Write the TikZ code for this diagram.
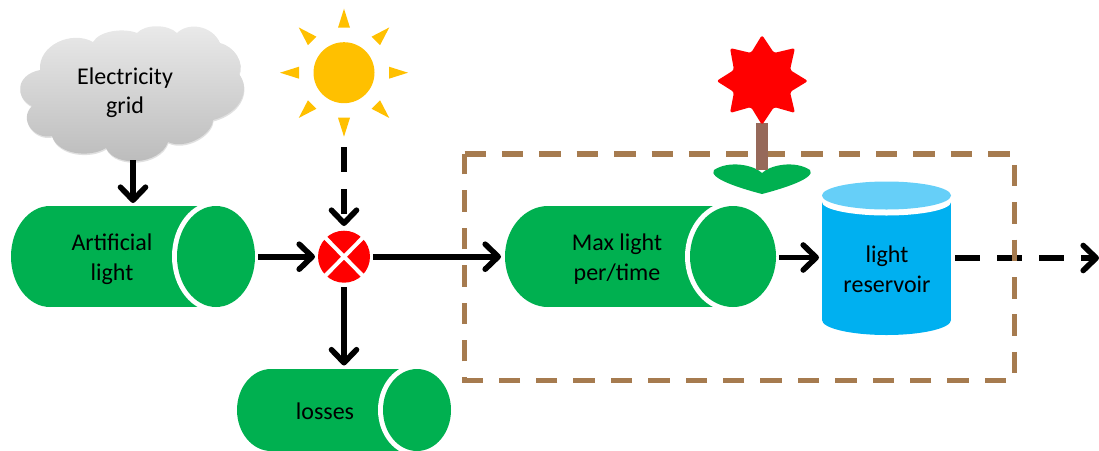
\documentclass[tikz,border=0pt]{standalone}
\usepackage{fontspec}
\setmainfont{Carlito}
\usetikzlibrary{arrows.meta,shadows}
\definecolor{cgreen}{HTML}{00B050}
\definecolor{csun}{HTML}{FFC000}
\definecolor{cbrown}{HTML}{A67B4F}
\definecolor{cstem}{HTML}{96695A}
\definecolor{cblue}{HTML}{00B0F0}
\definecolor{cltblue}{HTML}{66CFF8}
\tikzset{
  flow/.style={line width=5.6pt,draw=black,-{Straight Barb[length=13pt,width=25pt,line width=5.6pt,round]}},
  flowdash/.style={flow,dash pattern=on 24.5pt off 17.5pt},
  boxlabel/.style={font=\fontsize{24}{29.5}\selectfont,align=center,text=black,inner sep=0pt},
  ray/.style={fill=csun,draw=none}
}
\newcommand{\tube}[5]{% x0 x1 ytop ybot rx
  \fill[cgreen] (#1+#5,{(#3+#4)/2}) ellipse[x radius=#5,y radius=(#4-#3)/2];
  \fill[cgreen] (#1+#5,#3) rectangle (#2-#5,#4);
  \fill[white] (#2-#5,{(#3+#4)/2}) ellipse[x radius=#5+5,y radius=(#4-#3)/2+5];
  \fill[cgreen] (#2-#5,{(#3+#4)/2}) ellipse[x radius=#5,y radius=(#4-#3)/2];
}
\begin{document}
\begin{tikzpicture}[x=1pt,y=-1pt]
\useasboundingbox (0,0) rectangle (1099,450);
% cloud
\path[top color=black!8,bottom color=black!27,draw=none,drop shadow={shadow xshift=0.5pt,shadow yshift=-1.5pt,fill=black!30,opacity=.4}]
 (40,70) .. controls (38,45) and (72,30) .. (93,42)
 .. controls (100,30) and (125,28) .. (137,33)
 .. controls (145,24) and (168,24) .. (177,33)
 .. controls (188,22) and (212,25) .. (220,43)
 .. controls (235,47) and (244,62) .. (239,74)
 .. controls (250,88) and (243,112) .. (213,120)
 .. controls (212,135) and (185,150) .. (168,142)
 .. controls (160,165) and (115,168) .. (106,148)
 .. controls (90,158) and (58,155) .. (52,136)
 .. controls (35,140) and (18,120) .. (32,106)
 .. controls (15,98) and (15,75) .. (40,70) -- cycle;
\node[boxlabel] (grid) at (125,92.5) {Electricity\\grid};
% sun
\fill[csun] (344,72.7) circle[radius=30.5];
\foreach \a in {0,45,...,315}{
  \begin{scope}[shift={(344,72.7)},rotate=\a]
    \fill[ray] (-6,-45) -- (6,-45) -- (0,-64) -- cycle;
  \end{scope}}
\coordinate (sunb) at (344,147);
\coordinate (mixn) at (344,226);
% tubes
\tube{11}{255}{206}{307}{39}
\node[boxlabel] (art) at (112,259) {Artificial\\light};
\tube{505}{776}{206}{307}{43}
\node[boxlabel] (maxl) at (617,259) {Max light\\per/time};
\tube{237}{451}{369}{451}{34}
\node[boxlabel] (loss) at (325,411) {losses};
% mixer
\fill[red] (344,256.7) circle[radius=26];
\draw[white,line width=4pt] (325,237.5) -- (363,276) (363,237.5) -- (325,276);
% cylinder
\fill[cblue] (822,196) rectangle (951,320);
\fill[cblue] (886.5,320) ellipse[x radius=64.5,y radius=15];
\fill[white] (886.5,202) ellipse[x radius=64.5,y radius=13.5];
\fill[white] (822,196) rectangle (951,202);
\fill[cltblue] (886.5,195.5) ellipse[x radius=64.5,y radius=14];
\node[boxlabel] (res) at (887,269) {light\\reservoir};
% connectors
\coordinate (c1) at (133,160);
\coordinate (c2) at (133,203);
\coordinate (a1) at (258,256.7);
\coordinate (a2) at (315,256.7);
\coordinate (b1) at (344,287);
\coordinate (b2) at (344,365.5);
\coordinate (d1) at (373,256.7);
\coordinate (d2) at (501,256.7);
\coordinate (e1) at (779,257.5);
\coordinate (e2) at (819,257.5);
\coordinate (f1) at (955,258);
\coordinate (f2) at (1099,258);
\draw[flow] (c1) -- (c2);
\draw[flow] (a1) -- (a2);
\draw[flowdash] (sunb) -- (mixn);
\draw[flow] (b1) -- (b2);
\draw[flow] (d1) -- (d2);
\draw[flow] (e1) -- (e2);
\draw[flowdash] (f1) -- (f2);
% dashed box
\draw[cbrown,line width=5.2pt,dash pattern=on 21.5pt off 15.9pt] (464.5,154) -- (1014.7,154) -- (1014.7,380.7) -- (464.5,380.7) -- cycle;
% flower
\fill[cgreen] (762,173) .. controls (770,165) and (795,160) .. (810,170) .. controls (816,178) and (785,188) .. (762,194)
  .. controls (739,188) and (708,178) .. (714,170) .. controls (729,160) and (754,165) .. (762,173) -- cycle;
\fill[cstem] (756,122.7) rectangle (768,170);
\fill[red,rounded corners=2.5pt] (762,35) -- (774,53) -- (795,48) -- (790,70) -- (808,81) -- (790,92) -- (795,113) -- (774,107) -- (762,125) -- (751,107) -- (730,113) -- (734,92) -- (716.5,81) -- (734,70) -- (730,48) -- (751,53) -- cycle;
\end{tikzpicture}
\end{document}
